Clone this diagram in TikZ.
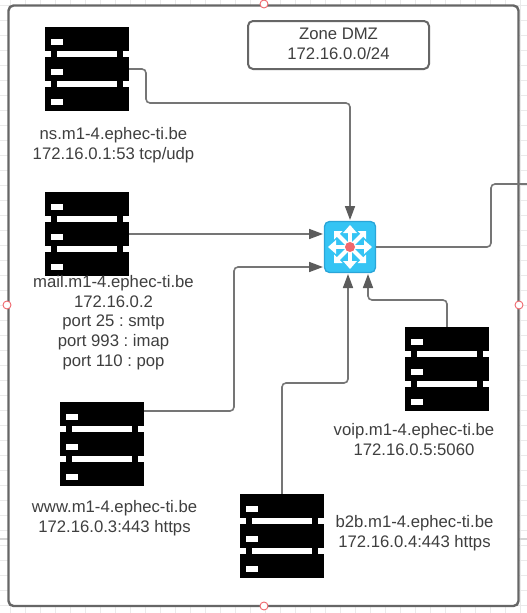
\documentclass[tikz,border=0pt]{standalone}
\usepackage{fontspec}
\setmainfont{Liberation Sans}
\frenchspacing
\usetikzlibrary{arrows.meta}
\definecolor{txt}{HTML}{3F3F3F}
\definecolor{edge}{HTML}{666666}
\definecolor{conn}{HTML}{757575}
\definecolor{tip}{HTML}{5C5C5C}
\definecolor{gridc}{HTML}{EAEAEA}
\definecolor{swfill}{HTML}{35C4F4}
\definecolor{swedge}{HTML}{2AA5D8}
\definecolor{hred}{HTML}{F0686E}
\tikzset{
  serverbox/.style={rectangle,draw=none,inner sep=0pt,minimum width=84pt,minimum height=84pt,
    path picture={
      \begin{scope}[shift={(path picture bounding box.center)}]
        \fill[black] (-42,-42) rectangle (42,-18.5);
        \fill[black] (-42,-12) rectangle (42,12);
        \fill[black] (-42,18) rectangle (42,42);
        \fill[black] (-36,-19) rectangle (-30,-11);
        \fill[black] (30,-19) rectangle (36,-11);
        \fill[black] (-36,11) rectangle (-30,19);
        \fill[black] (30,11) rectangle (36,19);
        \fill[white] (-36,-30) rectangle (-24,-24);
        \fill[white] (-36,0) rectangle (-24,6);
        \fill[white] (-36,30) rectangle (-24,36);
      \end{scope}
    }},
  lbl/.style={text=txt,font=\fontsize{16.7pt}{19.7pt}\selectfont,align=center,inner sep=0pt},
  link/.style={draw=conn,line width=1.6pt,rounded corners=4pt},
  linkarrow/.style={link,-{Triangle[length=14pt,width=10pt,color=tip]}},
  frame/.style={draw=edge,line width=2.4pt,rounded corners=5pt,fill=white},
  zonebox/.style={rectangle,draw=edge,line width=2pt,rounded corners=5pt,minimum width=181pt,minimum height=48pt,inner sep=0pt},
  handle/.style={circle,draw=hred,fill=white,line width=0.9pt,minimum size=8pt,inner sep=0pt},
  switchbox/.style={rectangle,draw=swedge,fill=swfill,line width=1.3pt,rounded corners=5pt,minimum width=51pt,minimum height=51pt,inner sep=0pt}
}
\begin{document}
\begin{tikzpicture}[x=1pt,y=-1pt]
\useasboundingbox (0,0) rectangle (527,613);
\fill[white] (0,0) rectangle (527,613);
% background grid
\foreach \gx in {10,25,...,525} {\draw[gridc,line width=0.8pt] (\gx,0) -- (\gx,613);}
\foreach \gy in {5,20,...,605} {\draw[gridc,line width=0.8pt] (0,\gy) -- (527,\gy);}
\draw[gridc!90!black,line width=2pt] (0,539) -- (527,539);
% zone frame
\path[frame] (8.5,5.5) rectangle (518.5,606);
\node[handle] (h1) at (264,4) {};
\node[handle] (h2) at (7,305) {};
\node[handle] (h3) at (519,305) {};
\node[handle] (h4) at (264,606) {};
% title
\node[zonebox] (zone) at (338.5,45) {};
\node[lbl] (zonet) at (338.5,44) {Zone DMZ\\172.16.0.0/24};
% servers
\node[serverbox] (ns) at (87,69) {};
\node[serverbox] (mail) at (87,234) {};
\node[serverbox] (www) at (102,444) {};
\node[serverbox] (voip) at (447,369) {};
\node[serverbox] (b2b) at (282,536) {};
% switch
\node[switchbox] (sw) at (350,247) {};
\begin{scope}[shift={(sw.center)}]
  \foreach \a in {0,90,180,270} {
    \begin{scope}[rotate=\a]
      \fill[white] (-2,0) rectangle (2,-15);
      \fill[white] (0,-22) -- (7,-14) -- (-7,-14) -- cycle;
    \end{scope}
    \begin{scope}[rotate=\a+45]
      \fill[white] (-2,0) rectangle (2,-17);
    \end{scope}
    \begin{scope}[rotate=\a]
      \fill[white] (16,-16) -- (7.5,-16) -- (16,-7.5) -- cycle;
    \end{scope}
  }
  \fill[hred] (0,0) circle (5);
\end{scope}
% labels
\node[lbl] (nsl) at (113.5,145) {ns.m1-4.ephec-ti.be\\172.16.0.1:53 tcp/udp};
\node[lbl] (maill) at (113.5,322.5) {mail.m1-4.ephec-ti.be\\172.16.0.2\\port 25 : smtp\\port 993 : imap\\port 110 : pop};
\node[lbl] (wwwl) at (114.5,518) {www.m1-4.ephec-ti.be\\172.16.0.3:443 https};
\node[lbl] (voipl) at (414,439.5) {voip.m1-4.ephec-ti.be\\172.16.0.5:5060};
\node[lbl] (b2bl) at (414.5,533) {b2b.m1-4.ephec-ti.be\\172.16.0.4:443 https};
% connector anchors
\coordinate (swtop) at (350,220);
\coordinate (swl1) at (323,234);
\coordinate (swl2) at (323,267);
\coordinate (swb1) at (348,274);
\coordinate (swb2) at (368,274);
\coordinate (wwwout) at (144,411);
\coordinate (out) at (527,184);
% connectors
\draw[linkarrow] (ns.east) -- (146,69) -- (146,103) -- (350,103) -- (swtop);
\draw[linkarrow] (mail.east) -- (swl1);
\draw[linkarrow] (wwwout) -- (234,411) -- (234,267) -- (swl2);
\draw[linkarrow] (b2b.north) -- (282,383) -- (348,383) -- (swb1);
\draw[linkarrow] (voip.north) -- (447,300) -- (368,300) -- (swb2);
\draw[link] (sw.east) -- (491,247) -- (491,184) -- (out);
\end{tikzpicture}
\end{document}
